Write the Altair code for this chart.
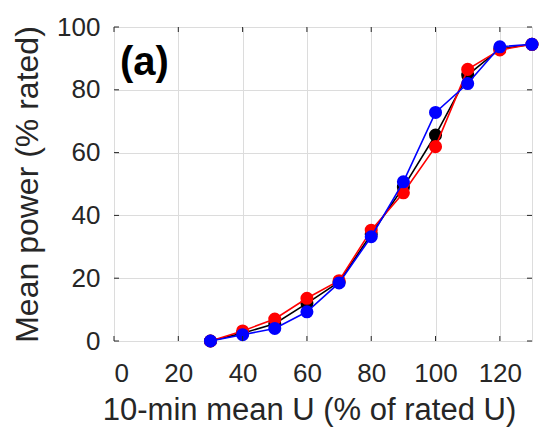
import altair as alt
import pandas as pd

# data
u_pct = [30, 40, 50, 60, 70, 80, 90, 100, 110, 120, 130]
p_black = [0.0, 2.5, 5.5, 12.0, 18.8, 34.0, 49.0, 65.6, 84.7, 93.0, 94.5]
p_red = [0.0, 3.2, 7.0, 13.6, 19.2, 35.3, 47.2, 61.9, 86.5, 92.7, 94.5]
p_blue = [0.0, 2.0, 4.0, 9.3, 18.5, 33.2, 50.7, 72.8, 82.0, 93.7, 94.5]
series_names = ["black", "red", "blue"]
series_colors = ["#000000", "#ff0000", "#0000ff"]
x_ticks = [0, 20, 40, 60, 80, 100, 120]
y_ticks = [0, 20, 40, 60, 80, 100]
panel_label = ["(a)"]

W, H = 418, 314
FONT = "Liberation Sans"
TXT = "#262626"

values = {"black": p_black, "red": p_red, "blue": p_blue}
rows = []
for s in series_names:
    for u, p in zip(u_pct, values[s]):
        rows.append({"u": u, "p": p, "s": s})
df = pd.DataFrame(rows)

xscale = alt.Scale(domain=[0, 130], nice=False, zero=False)
yscale = alt.Scale(domain=[0, 100], nice=False)

xaxis = alt.Axis(values=x_ticks, title="10-min mean U (% of rated U)", grid=True,
                 labelPadding=19,
                 titleFontSize=31,
                 titleX=195, titleY=78, titleBaseline="alphabetic", titleAlign="center")
yaxis = alt.Axis(values=y_ticks, title="Mean power (% rated)", grid=True,
                 labelPadding=14,
                 titleFontSize=32, titleAngle=-90,
                 titleX=-77, titleY=157, titleBaseline="alphabetic", titleAlign="center")

layers = []
first = True
for s, c in zip(series_names, series_colors):
    base = alt.Chart(df).transform_filter(alt.datum.s == s)
    if first:
        xe = alt.X("u:Q", scale=xscale, axis=xaxis)
        ye = alt.Y("p:Q", scale=yscale, axis=yaxis)
    else:
        xe = alt.X("u:Q", scale=xscale)
        ye = alt.Y("p:Q", scale=yscale)
    first = False
    line = base.mark_line(color=c, strokeWidth=1.6).encode(x=xe, y=ye)
    pts = base.mark_point(color=c, filled=True, opacity=1, size=170, shape="circle").encode(
        x=alt.X("u:Q", scale=xscale),
        y=alt.Y("p:Q", scale=yscale),
    )
    layers += [line, pts]

xt = pd.DataFrame({"u": x_ticks})
yt = pd.DataFrame({"p": y_ticks})
tick_col = "#262626"
ticks = [
    alt.Chart(xt).mark_rule(color=tick_col, strokeWidth=1).encode(
        x=alt.X("u:Q", scale=xscale), y=alt.value(H), y2=alt.value(H - 5)),
    alt.Chart(xt).mark_rule(color=tick_col, strokeWidth=1).encode(
        x=alt.X("u:Q", scale=xscale), y=alt.value(0), y2=alt.value(5)),
    alt.Chart(yt).mark_rule(color=tick_col, strokeWidth=1).encode(
        y=alt.Y("p:Q", scale=yscale), x=alt.value(0), x2=alt.value(5)),
    alt.Chart(yt).mark_rule(color=tick_col, strokeWidth=1).encode(
        y=alt.Y("p:Q", scale=yscale), x=alt.value(W), x2=alt.value(W - 5)),
]

label = alt.Chart(pd.DataFrame({"t": panel_label})).mark_text(
    font=FONT, fontSize=40, fontWeight="bold", color="#000000",
    align="left", baseline="alphabetic").encode(
    text="t:N", x=alt.value(6), y=alt.value(48))

chart = alt.layer(*layers, *ticks, label).properties(
    width=W, height=H,
    autosize=alt.AutoSizeParams(type="none"),
    padding={"left": 114, "top": 27, "right": 12, "bottom": 93},
).configure_view(stroke="#262626", strokeWidth=1.2).configure(background="white").configure_axis(
    gridColor="#dcdcdc", gridWidth=1, tickSize=0, domain=False,
    labelFontSize=26, labelFont=FONT, labelColor=TXT,
    titleFont=FONT, titleColor=TXT, titleFontWeight="normal",
)

chart.save("out.html", embed_options={"renderer": "svg", "actions": False})
